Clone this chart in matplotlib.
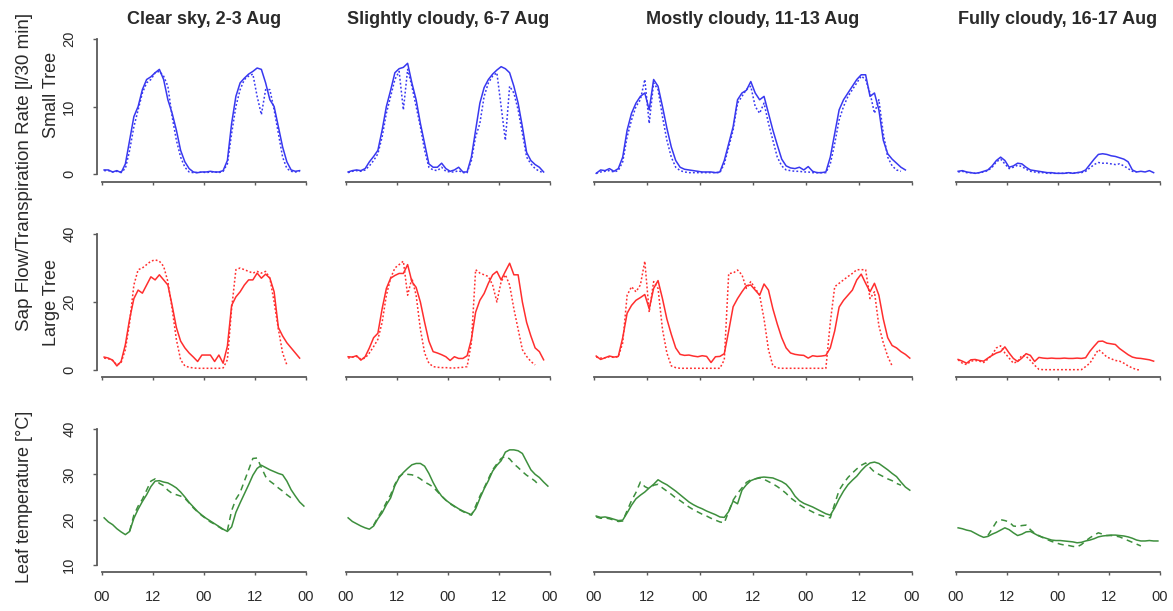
import numpy as np
import matplotlib
matplotlib.use('Agg')
import matplotlib.pyplot as plt

plt.rcParams['font.family'] = ['Liberation Sans', 'DejaVu Sans']

# half-hour offsets, hourly readings (None = no value)
periods = ['Clear sky, 2-3 Aug', 'Slightly cloudy, 6-7 Aug', 'Mostly cloudy, 11-13 Aug', 'Fully cloudy, 16-17 Aug']
period_hours = [48, 48, 72, 48]
tick_labels = ['00', '12']

# small tree sap flow (solid) / transpiration (dotted)
clear_small_a = [0.6, 0.6, 0.3, 0.5, 0.2, 1.5, 5.0, 8.5, 10.0, 12.5, 14.0, 14.4, 15.0, 15.5, 14.0, 11.0, 9.0, 6.5, 3.5, 1.8,
                 0.8, 0.3, 0.2, 0.3, 0.3, 0.4, 0.3, 0.3, 0.5, 2.0, 7.5, 11.5, 13.5, 14.2, 14.8, 15.2, 15.7, 15.5, 13.5, 11.0,
                 10.0, 7.0, 4.0, 1.8, 0.6, 0.4, 0.5]
clear_small_b = [0.5, 0.5, 0.3, 0.4, 0.3, 0.8, 3.5, 7.0, 9.5, 12.0, 13.5, 14.0, 15.0, 15.2, 14.5, 13.0, 8.5, 5.0, 2.5, 1.0,
                 0.3, 0.2, 0.2, 0.3, 0.2, 0.3, 0.3, 0.2, 0.4, 1.5, 6.0, 10.0, 12.5, 14.0, 14.5, 14.8, 11.5, 8.8, 12.5, 12.5,
                 9.5, 6.0, 2.5, 0.8, 0.4, 0.3, 0.4]
slight_small_a = [0.3, 0.5, 0.6, 0.5, 0.8, 1.8, 2.6, 3.5, 6.5, 10.0, 12.4, 15.0, 15.6, 15.8, 16.4, 13.5, 11.0, 7.5, 4.5, 1.5,
                  1.0, 1.0, 1.6, 0.8, 0.4, 0.6, 1.0, 0.3, 0.3, 2.5, 6.5, 10.5, 12.8, 14.0, 14.8, 15.4, 15.9, 15.6, 15.0, 13.0,
                  10.5, 7.0, 3.2, 2.0, 1.4, 1.0, 0.3]
slight_small_b = [0.2, 0.4, 0.5, 0.4, 0.6, 1.2, 2.0, 3.0, 5.5, 9.0, 11.5, 14.0, 15.2, 9.5, 15.5, 13.0, 10.0, 7.0, 3.5, 1.0,
                  0.6, 0.5, 1.0, 0.4, 0.3, 0.3, 0.5, 0.2, 0.2, 2.0, 5.5, 7.5, 11.5, 13.5, 14.5, 15.0, 10.0, 5.0, 13.0, 12.0,
                  9.5, 6.0, 2.5, 1.5, 0.8, 0.4, 0.2]
mostly_small_a = [0.1, 0.6, 0.5, 0.8, 0.4, 0.8, 2.5, 6.5, 9.0, 10.5, 11.5, 12.0, 9.5, 14.0, 13.0, 10.0, 6.8, 4.0, 2.0, 1.0,
                  0.7, 0.6, 0.5, 0.4, 0.3, 0.3, 0.3, 0.2, 0.3, 2.0, 4.5, 7.0, 11.0, 12.0, 12.4, 13.7, 12.0, 11.0, 11.5, 9.0,
                  6.5, 4.3, 2.2, 1.2, 0.9, 0.8, 1.0, 0.6, 1.1, 0.4, 0.2, 0.2, 0.3, 2.5, 6.0, 9.5, 11.0, 12.0, 13.0, 14.0,
                  14.7, 14.7, 11.5, 12.0, 9.5, 5.0, 3.0, 2.2, 1.6, 1.0, 0.6]
mostly_small_b = [0.1, 0.3, 0.4, 0.5, 0.3, 0.5, 1.8, 5.5, 8.0, 10.0, 11.0, 14.0, 7.5, 13.5, 12.5, 8.5, 5.0, 2.5, 1.0, 0.5,
                  0.3, 0.2, 0.2, 0.2, 0.2, 0.2, 0.2, 0.2, 0.2, 1.5, 4.0, 6.5, 10.5, 11.5, 12.5, 13.0, 10.0, 9.0, 10.5, 7.5,
                  5.0, 2.5, 1.2, 0.6, 0.5, 0.4, 0.4, 0.3, 0.3, 0.2, 0.2, 0.2, 0.2, 1.5, 4.5, 8.0, 10.0, 11.5, 12.5, 13.5,
                  14.5, 14.0, 12.0, 9.0, 11.0, 6.0, 2.5, 1.2, 0.6, 0.4]
full_small_a = [0.4, 0.5, 0.3, 0.2, 0.1, 0.2, 0.4, 0.6, 1.2, 2.0, 2.5, 2.0, 1.0, 1.2, 1.6, 1.5, 1.0, 0.6, 0.5, 0.4,
                0.3, 0.2, 0.2, 0.1, 0.1, 0.1, 0.2, 0.1, 0.2, 0.3, 0.6, 1.4, 2.2, 2.9, 3.0, 2.9, 2.7, 2.6, 2.4, 2.2,
                1.8, 0.6, 0.3, 0.4, 0.3, 0.5, 0.2]
full_small_b = [0.3, 0.4, 0.2, 0.2, 0.1, 0.2, 0.3, 0.5, 1.0, 1.8, 2.2, 1.5, 0.8, 1.0, 1.3, 1.1, 0.7, 0.4, 0.3, 0.2,
                0.2, 0.1, 0.1, 0.1, 0.1, 0.1, 0.2, 0.1, 0.2, 0.2, 0.4, 0.9, 1.4, 1.7, 1.6, 1.6, 1.5, 1.4, 1.5, 1.2,
                0.8, 0.4, 0.3]

# large tree
clear_large_a = [3.8, 3.5, 2.9, 1.2, 2.5, 7.5, 15.0, 21.0, 23.5, 22.6, 25.0, 27.4, 26.5, 28.0, 26.5, 25.0, 19.0, 12.5, 8.5, 6.5,
                 5.0, 3.8, 2.5, 4.4, 4.4, 4.4, 2.5, 4.4, 2.0, 7.0, 19.0, 21.5, 23.0, 25.0, 26.5, 26.5, 28.5, 27.0, 28.2, 27.0,
                 23.0, 12.5, 10.0, 8.0, 6.5, 5.0, 3.5]
clear_large_b = [3.5, 3.3, 2.8, 1.5, 2.2, 6.0, 14.0, 25.0, 29.5, 30.0, 31.0, 32.0, 32.4, 32.0, 30.5, 26.0, 18.0, 9.0, 3.0, 1.2,
                 0.8, 0.6, 0.5, 0.5, 0.5, 0.5, 0.5, 0.5, 0.6, 3.0, 18.0, 29.5, 30.0, 29.5, 29.0, 28.5, 29.0, 28.5, 29.0, 27.0,
                 20.0, 12.0, 5.0, 1.5]
slight_large_a = [3.9, 3.8, 4.2, 2.9, 3.9, 6.5, 9.5, 10.8, 18.0, 24.0, 27.0, 27.8, 28.4, 28.4, 31.0, 26.0, 24.3, 20.0, 14.0, 8.5,
                  5.4, 5.0, 4.5, 3.9, 2.8, 3.9, 3.4, 3.4, 4.2, 9.0, 17.0, 20.5, 22.5, 25.5, 28.0, 29.0, 26.5, 29.0, 31.4, 28.0,
                  28.0, 20.0, 14.0, 10.0, 6.5, 5.4, 3.0]
slight_large_b = [3.5, 3.8, 4.0, 3.2, 3.5, 5.0, 6.9, 9.0, 14.0, 22.0, 27.0, 30.0, 31.0, 32.0, 22.0, 27.0, 22.0, 12.0, 5.0, 2.0,
                  1.0, 0.8, 0.7, 0.7, 0.6, 0.6, 0.7, 0.8, 1.0, 8.0, 29.5, 28.5, 28.0, 27.5, 25.0, 20.0, 26.0, 28.0, 25.0, 18.0,
                  12.0, 6.0, 4.0, 2.5, 1.5]
mostly_large_a = [4.1, 3.1, 3.6, 4.1, 3.8, 4.0, 9.5, 16.7, 19.0, 20.5, 21.3, 22.2, 18.0, 24.0, 26.3, 21.0, 15.0, 10.5, 6.5, 4.6,
                  4.3, 4.4, 4.1, 3.9, 4.2, 4.0, 2.2, 3.9, 4.0, 4.8, 11.5, 18.6, 21.0, 23.0, 24.8, 25.0, 23.5, 22.0, 25.3, 23.5,
                  18.0, 13.5, 9.5, 6.5, 5.0, 4.6, 4.4, 4.3, 3.5, 4.2, 4.0, 4.1, 4.3, 6.5, 11.5, 18.5, 20.5, 22.0, 23.5, 26.5,
                  28.2, 25.5, 23.0, 25.5, 22.0, 15.0, 9.5, 7.2, 6.5, 5.4, 4.6, 3.5]
mostly_large_b = [3.8, 3.5, 3.6, 3.9, 3.7, 3.9, 8.0, 22.0, 24.5, 23.0, 25.0, 32.0, 17.0, 26.0, 24.0, 12.0, 5.0, 1.2, 0.7, 0.5,
                  0.5, 0.5, 0.5, 0.5, 0.5, 0.5, 0.5, 0.5, 0.5, 3.0, 28.4, 28.5, 29.4, 28.0, 24.0, 26.0, 24.0, 22.0, 15.0, 6.0,
                  1.2, 0.6, 0.5, 0.5, 0.5, 0.5, 0.5, 0.5, 0.5, 0.5, 0.5, 0.5, 0.5, 14.0, 24.5, 25.5, 26.5, 27.5, 28.4, 29.5,
                  29.5, 29.5, 21.0, 23.0, 13.0, 8.0, 4.0, 1.2]
full_large_a = [3.1, 2.6, 2.0, 3.0, 3.1, 2.8, 2.6, 3.5, 4.3, 5.0, 5.4, 6.8, 5.0, 3.4, 2.5, 3.5, 4.8, 4.3, 2.5, 3.7,
                3.5, 3.4, 3.5, 3.4, 3.4, 3.5, 3.4, 3.4, 3.5, 3.4, 3.6, 5.5, 7.0, 8.4, 8.5, 7.9, 7.7, 7.5, 6.3, 5.4,
                4.5, 3.8, 3.5, 3.4, 3.2, 3.0, 2.6]
full_large_b = [3.0, 2.0, 1.6, 2.6, 2.8, 2.6, 2.2, 3.2, 4.5, 6.5, 7.1, 5.0, 3.5, 2.0, 2.5, 4.3, 4.0, 2.8, 1.4, 0.2,
                0.1, 0.1, 0.1, 0.1, 0.1, 0.1, 0.1, 0.1, 0.1, 0.1, 1.0, 2.0, 4.0, 6.0, 5.0, 3.8, 3.3, 2.8, 2.6, 2.0,
                1.2, 0.6, 0.1, 0.0]

# leaf temperature, solid and dashed
clear_leaf_a = [20.4, 19.5, 18.9, 18.0, 17.3, 16.7, 17.4, 20.3, 22.3, 24.0, 25.5, 27.3, 28.5, 28.6, 28.3, 28.1, 27.6, 27.0,
                26.1, 25.0, 23.8, 22.8, 21.8, 21.0, 20.3, 19.7, 19.1, 18.5, 17.9, 17.4, 18.4, 21.6, 23.7, 25.7, 27.7, 29.8,
                31.3, 32.0, 31.5, 31.0, 30.6, 30.2, 29.9, 28.5, 26.6, 25.2, 23.9, 23.0]
clear_leaf_b = [None] * 6 + [17.5, 21.0, 23.0, 24.5, 26.5, 28.5, 29.0, 28.0, 27.5, 26.5, 25.8, 25.5, 25.2, 24.7, 23.7, 22.6,
                             21.7, 20.9, 20.2, 19.5, 19.0, 18.4, 17.8, 17.6, 22.0, 24.5, 26.0, 28.5, 31.0, 33.5, 33.6, 31.5,
                             29.5, 28.5, 27.8, 27.0, 26.3, 25.5, 24.8]
slight_leaf_a = [20.4, 19.6, 19.1, 18.6, 18.2, 17.9, 18.6, 20.2, 21.5, 23.3, 24.8, 27.5, 29.3, 30.4, 31.3, 32.1, 32.4, 32.4,
                 31.8, 30.2, 28.2, 26.5, 25.2, 24.3, 23.6, 23.0, 22.4, 21.9, 21.5, 21.1, 22.4, 24.7, 26.8, 28.6, 30.7, 32.0,
                 33.0, 34.9, 35.4, 35.4, 35.2, 34.6, 32.8, 31.0, 30.0, 29.3, 28.3, 27.4]
slight_leaf_b = [None] * 6 + [18.8, 20.5, 22.0, 23.8, 25.5, 27.8, 29.5, 30.2, 30.0, 29.9, 29.6, 29.0, 28.3, 27.8, 27.2, 26.2,
                              25.2, 24.3, 23.5, 22.9, 22.3, 21.8, 21.3, 21.0, 23.0, 25.2, 27.0, 29.0, 31.0, 32.3, 33.5, 34.0,
                              33.4, 32.3, 31.5, 30.6, 29.8, 29.2, 28.5, 27.5]
mostly_leaf_a = [20.8, 20.5, 20.6, 20.4, 20.1, 19.8, 19.9, 21.5, 23.2, 24.6, 25.4, 26.1, 27.0, 27.8, 28.8, 28.2, 27.7, 27.0,
                 26.3, 25.5, 24.7, 23.9, 23.3, 22.8, 22.4, 21.9, 21.5, 21.1, 20.6, 20.5, 21.8, 24.1, 23.5, 26.5, 27.7, 28.6,
                 29.0, 29.3, 29.4, 29.3, 29.2, 28.8, 28.4, 27.8, 26.7, 25.2, 24.2, 23.6, 23.2, 22.8, 22.3, 21.8, 21.3, 21.0,
                 22.6, 24.6, 26.3, 27.7, 28.7, 29.6, 30.8, 31.8, 32.5, 32.7, 32.4, 31.7, 31.0, 30.2, 29.5, 28.3, 27.2, 26.5]
mostly_leaf_b = [20.6, 20.3, 20.4, 20.2, 19.9, 19.6, 19.7, 22.0, 24.2, 26.0, 28.3, 27.3, 26.8, 27.6, 27.8, 27.0, 26.3, 25.6,
                 24.8, 24.2, 23.5, 22.8, 22.2, 21.7, 21.2, 20.8, 20.3, 19.9, 19.5, 19.3, 21.8, 24.3, 25.8, 27.0, 28.2, 28.8,
                 29.0, 29.2, 28.9, 28.4, 27.9, 27.3, 26.6, 25.8, 24.8, 24.1, 23.3, 22.7, 22.2, 21.7, 21.2, 20.9, 20.6, 20.4,
                 23.5, 26.5, 28.0, 29.3, 30.3, 31.2, 32.0, 32.5, 31.5, 30.5, 30.0, 29.5, 29.0, 28.6, 28.0, 27.6]
full_leaf_a = [18.2, 18.0, 17.7, 17.5, 17.0, 16.5, 16.1, 16.3, 16.8, 17.2, 17.7, 18.2, 17.8, 17.1, 16.5, 16.8, 17.3, 17.4,
               16.9, 16.4, 16.1, 15.8, 15.5, 15.4, 15.4, 15.3, 15.2, 15.1, 14.9, 15.0, 15.3, 15.5, 15.8, 16.2, 16.4, 16.5,
               16.6, 16.6, 16.5, 16.4, 16.2, 15.9, 15.5, 15.3, 15.3, 15.4, 15.3, 15.3]
full_leaf_b = [None] * 7 + [16.5, 18.0, 19.5, 20.0, 19.8, 19.5, 18.6, 18.5, 18.7, 18.8, 17.8, 17.0, 16.5, 16.0, 15.6, 15.2,
                            14.9, 14.6, 14.4, 14.3, 14.1, 14.0, 14.5, 15.3, 16.0, 16.6, 17.1, 16.8, 16.5, 16.5, 16.4, 16.2,
                            15.8, 15.4, 15.0, 14.6, 14.2]

rows = [
    ([clear_small_a, slight_small_a, mostly_small_a, full_small_a],
     [clear_small_b, slight_small_b, mostly_small_b, full_small_b]),
    ([clear_large_a, slight_large_a, mostly_large_a, full_large_a],
     [clear_large_b, slight_large_b, mostly_large_b, full_large_b]),
    ([clear_leaf_a, slight_leaf_a, mostly_leaf_a, full_leaf_a],
     [clear_leaf_b, slight_leaf_b, mostly_leaf_b, full_leaf_b]),
]
row_colors = ['#3838f0', '#ff2e2e', '#3d8f3d']
row_second_style = [(0, (1.2, 1.4)), (0, (1.2, 1.4)), (0, (4, 3))]
row_yticks = [[0, 10, 20], [0, 20, 40], [10, 20, 30, 40]]

# layout in pixels of the reference image
W, H = 1173, 611
col_px = [(102, 306), (346, 550), (594, 912), (956, 1160)]      # first / last x tick
row_px = [(174, 39, 182, 35), (370, 234, 377, 229), (565, 429, 572, 424)]  # y of first tick, last tick, bottom, top
pad = 5
axis_grey = '#5a5a5a'
text_col = '#2a2a2a'

fig = plt.figure(figsize=(W / 100, H / 100), dpi=100)

for r, (solid_list, other_list) in enumerate(rows):
    y0px, y1px, bpx, tpx = row_px[r]
    yt = row_yticks[r]
    yscale = (y0px - y1px) / (yt[-1] - yt[0])
    ylim = (yt[0] - (bpx - y0px) / yscale, yt[-1] + (y1px - tpx) / yscale)
    for c in range(4):
        x0px, x1px = col_px[c]
        hours = period_hours[c]
        xscale = (x1px - x0px) / hours
        ax = fig.add_axes([(x0px - pad) / W, (H - bpx) / H,
                           (x1px - x0px + 2 * pad) / W, (bpx - tpx) / H])
        ax.set_xlim(-pad / xscale, hours + pad / xscale)
        ax.set_ylim(*ylim)

        a = np.array(solid_list[c], dtype=float)
        b = np.array(other_list[c], dtype=float)
        ax.plot(0.5 + np.arange(len(a)), a, color=row_colors[r], lw=1.1)
        ax.plot(0.5 + np.arange(len(b)), b, color=row_colors[r], lw=1.1, ls=row_second_style[r])

        for s in ['top', 'right']:
            ax.spines[s].set_visible(False)
        ax.spines['bottom'].set_bounds(0, hours)
        ax.spines['bottom'].set_color(axis_grey)
        ax.spines['bottom'].set_linewidth(1.3)
        xt = np.arange(0, hours + 1, 12)
        ax.set_xticks(xt)
        ax.tick_params(axis='x', length=2.5, width=1, color=axis_grey, pad=10.5,
                       labelsize=10.5, labelcolor=text_col)
        if r == 2:
            ax.set_xticklabels([tick_labels[(int(h) // 12) % 2] for h in xt])
        else:
            ax.set_xticklabels([])

        if c == 0:
            ax.spines['left'].set_bounds(yt[0], yt[-1])
            ax.spines['left'].set_color(axis_grey)
            ax.spines['left'].set_linewidth(1.3)
            ax.set_yticks(yt)
            ax.tick_params(axis='y', length=3, width=1, color=axis_grey, pad=12,
                           labelsize=10.5, labelcolor=text_col)
            for lab in ax.get_yticklabels():
                lab.set_rotation(90)
                lab.set_va('center')
        else:
            ax.spines['left'].set_visible(False)
            ax.set_yticks([])

        if r == 0:
            fig.text((x0px + x1px) / 2 / W, 1 - 19 / H, periods[c], ha='center', va='center',
                     fontsize=13, fontweight='bold', color=text_col)

fig.text(25 / W, 1 - 172 / H, 'Sap Flow/Transpiration Rate [l/30 min]', rotation=90,
         ha='center', va='center', fontsize=13.5, color=text_col)
fig.text(52 / W, 1 - 95 / H, 'Small Tree', rotation=90, ha='center', va='center', fontsize=13, color=text_col)
fig.text(52 / W, 1 - 303 / H, 'Large Tree', rotation=90, ha='center', va='center', fontsize=13, color=text_col)
fig.text(25 / W, 1 - 497 / H, 'Leaf temperature [\u00b0C]', rotation=90,
         ha='center', va='center', fontsize=13, color=text_col)

fig.savefig('out.png', dpi=100)
